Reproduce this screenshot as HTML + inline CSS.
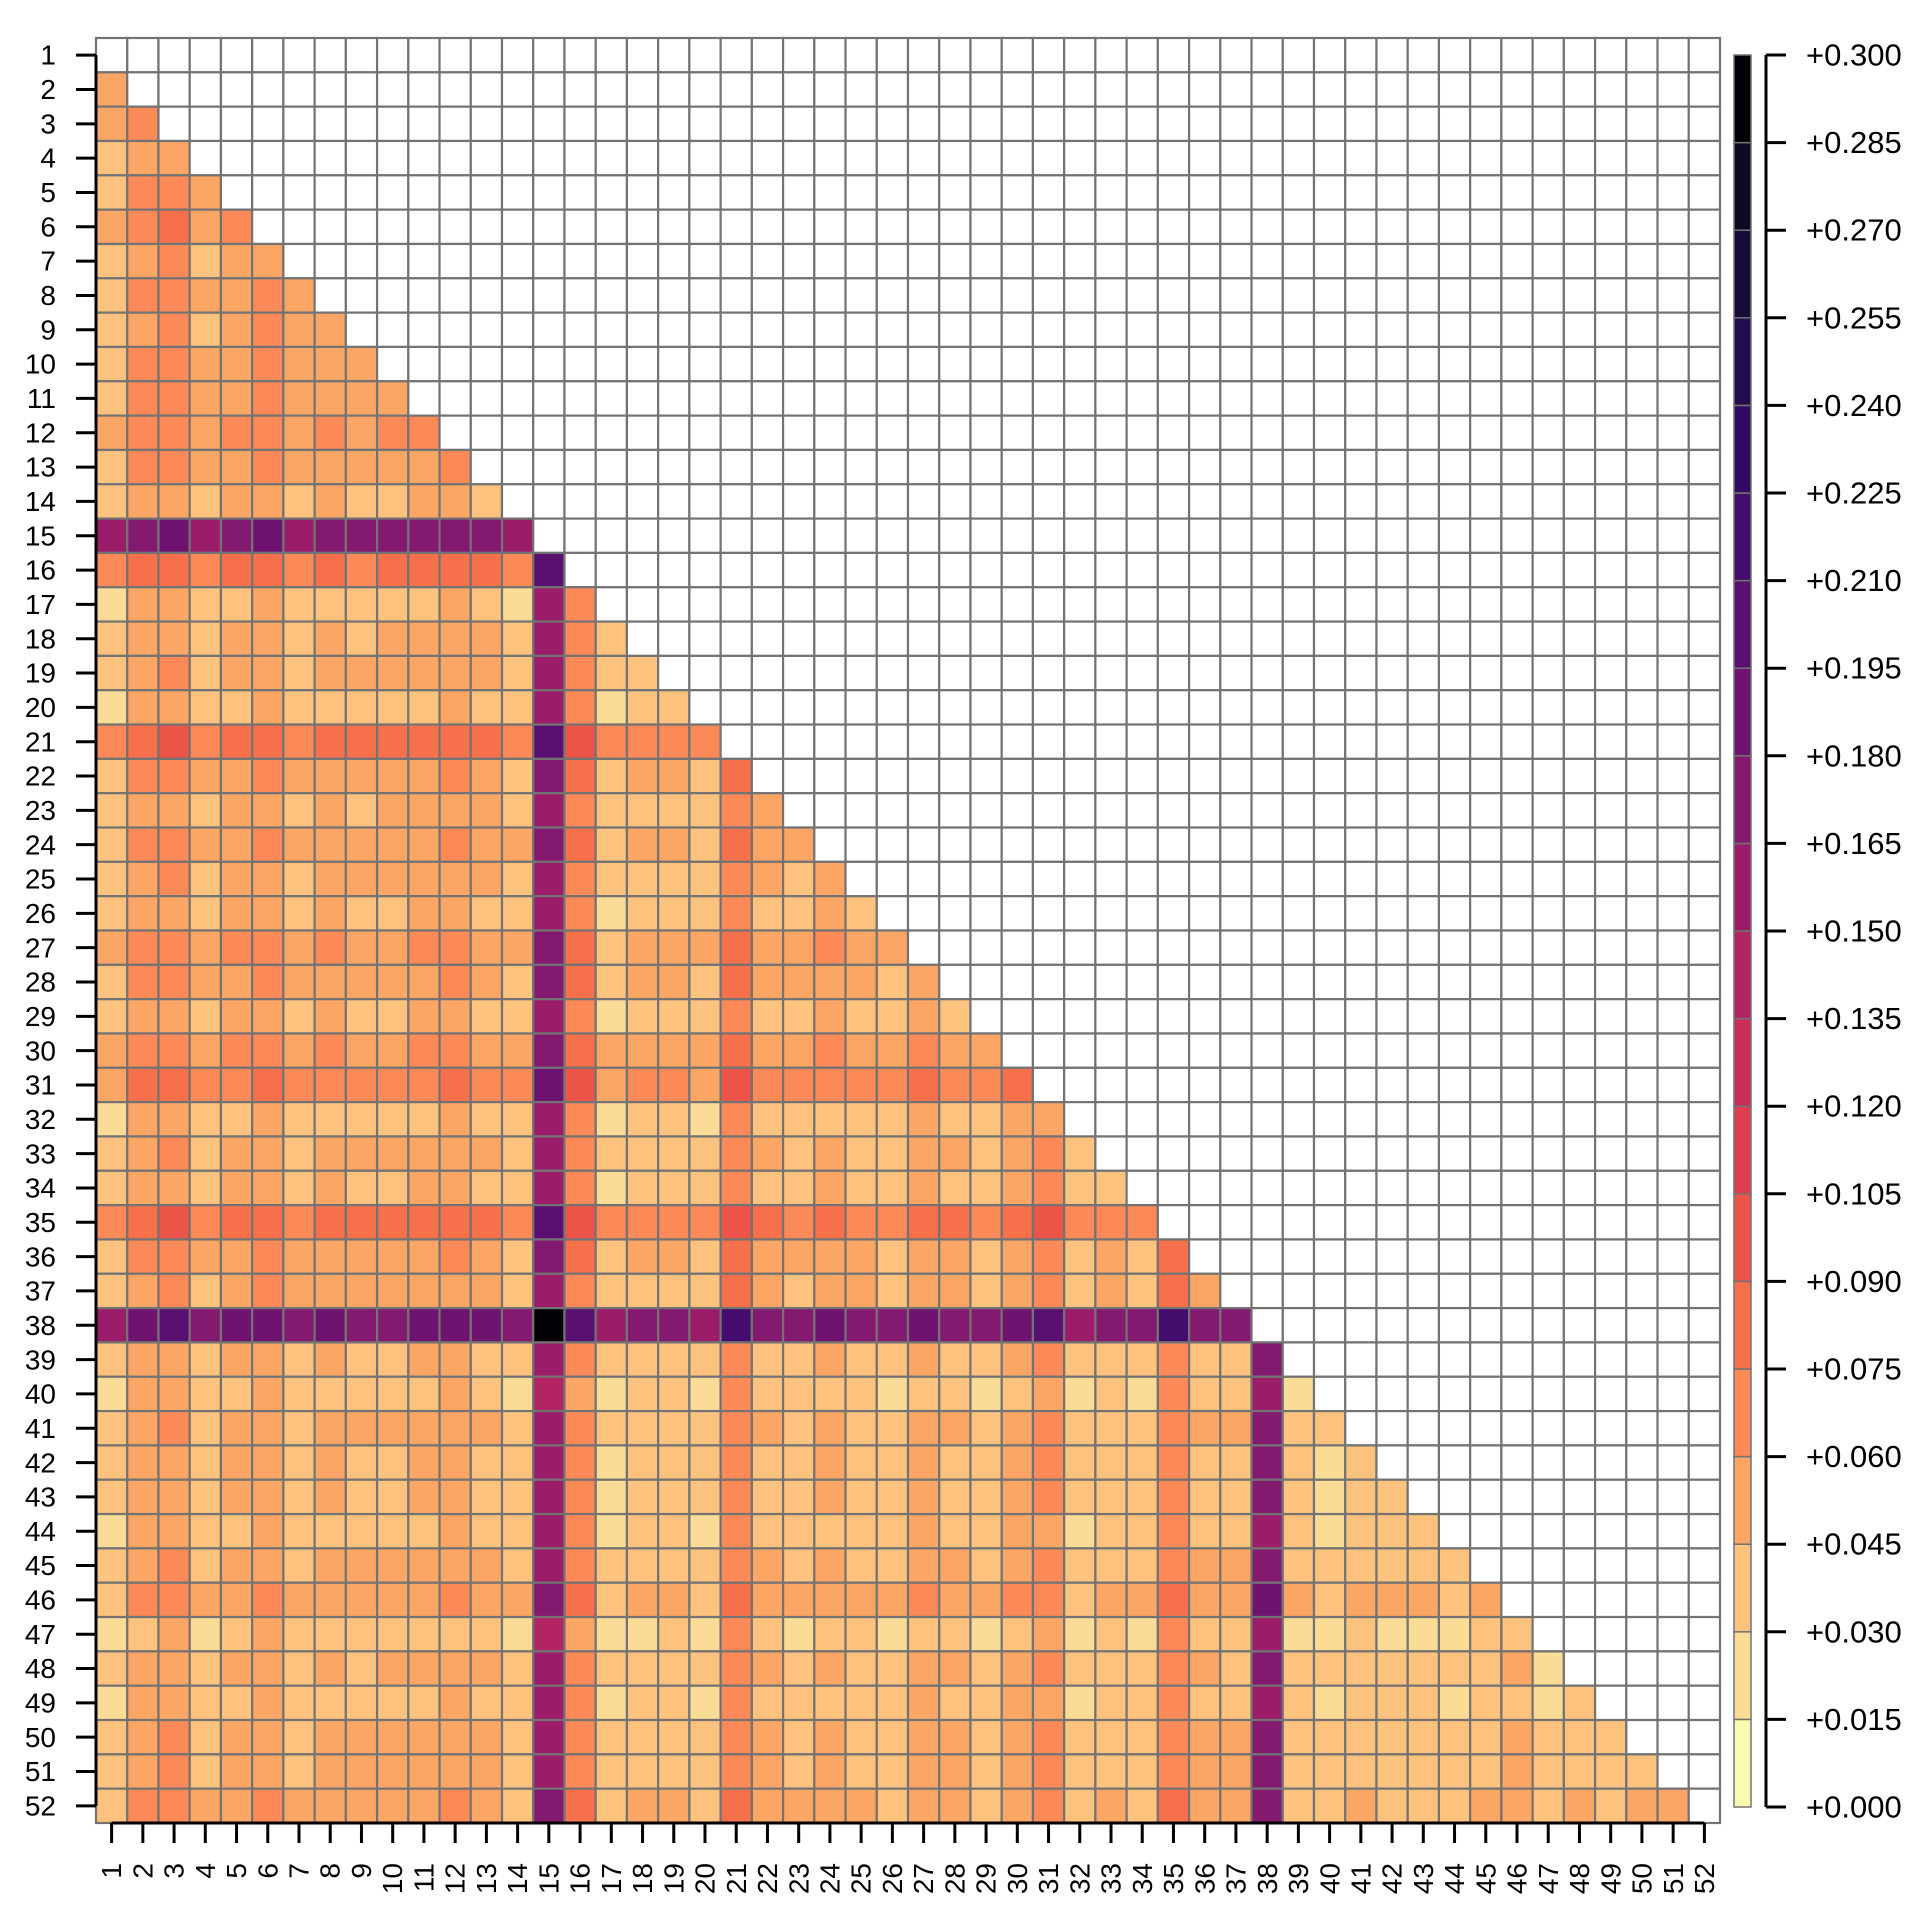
<!DOCTYPE html>
<html><head><meta charset="utf-8"><style>
html,body{margin:0;padding:0;background:#fff;width:1920px;height:1920px;overflow:hidden}
svg text{font-family:"Liberation Sans",Arial,sans-serif;fill:#000}
</style></head><body>
<svg id="s" width="1920" height="1920" xmlns="http://www.w3.org/2000/svg">
<g id="cells"></g>
<g id="axes" stroke="#000" stroke-width="3"></g>
<g font-size="28" text-anchor="end" dominant-baseline="central">
<text x="56" y="55.2">1</text><text x="56" y="89.5">2</text><text x="56" y="123.8">3</text><text x="56" y="158.2">4</text><text x="56" y="192.5">5</text><text x="56" y="226.8">6</text><text x="56" y="261.2">7</text><text x="56" y="295.5">8</text><text x="56" y="329.8">9</text><text x="56" y="364.2">10</text><text x="56" y="398.5">11</text><text x="56" y="432.8">12</text><text x="56" y="467.1">13</text><text x="56" y="501.5">14</text><text x="56" y="535.8">15</text><text x="56" y="570.1">16</text><text x="56" y="604.5">17</text><text x="56" y="638.8">18</text><text x="56" y="673.1">19</text><text x="56" y="707.5">20</text><text x="56" y="741.8">21</text><text x="56" y="776.1">22</text><text x="56" y="810.5">23</text><text x="56" y="844.8">24</text><text x="56" y="879.1">25</text><text x="56" y="913.5">26</text><text x="56" y="947.8">27</text><text x="56" y="982.1">28</text><text x="56" y="1016.4">29</text><text x="56" y="1050.8">30</text><text x="56" y="1085.1">31</text><text x="56" y="1119.4">32</text><text x="56" y="1153.8">33</text><text x="56" y="1188.1">34</text><text x="56" y="1222.4">35</text><text x="56" y="1256.8">36</text><text x="56" y="1291.1">37</text><text x="56" y="1325.4">38</text><text x="56" y="1359.8">39</text><text x="56" y="1394.1">40</text><text x="56" y="1428.4">41</text><text x="56" y="1462.8">42</text><text x="56" y="1497.1">43</text><text x="56" y="1531.4">44</text><text x="56" y="1565.7">45</text><text x="56" y="1600.1">46</text><text x="56" y="1634.4">47</text><text x="56" y="1668.7">48</text><text x="56" y="1703.1">49</text><text x="56" y="1737.4">50</text><text x="56" y="1771.7">51</text><text x="56" y="1806.1">52</text>
</g>
<g id="bl" font-size="28" text-anchor="end" dominant-baseline="central">
<text transform="translate(111.6,1863) rotate(-90)">1</text><text transform="translate(142.8,1863) rotate(-90)">2</text><text transform="translate(174.1,1863) rotate(-90)">3</text><text transform="translate(205.3,1863) rotate(-90)">4</text><text transform="translate(236.5,1863) rotate(-90)">5</text><text transform="translate(267.8,1863) rotate(-90)">6</text><text transform="translate(299.0,1863) rotate(-90)">7</text><text transform="translate(330.2,1863) rotate(-90)">8</text><text transform="translate(361.5,1863) rotate(-90)">9</text><text transform="translate(392.7,1863) rotate(-90)">10</text><text transform="translate(424.0,1863) rotate(-90)">11</text><text transform="translate(455.2,1863) rotate(-90)">12</text><text transform="translate(486.4,1863) rotate(-90)">13</text><text transform="translate(517.7,1863) rotate(-90)">14</text><text transform="translate(548.9,1863) rotate(-90)">15</text><text transform="translate(580.1,1863) rotate(-90)">16</text><text transform="translate(611.4,1863) rotate(-90)">17</text><text transform="translate(642.6,1863) rotate(-90)">18</text><text transform="translate(673.8,1863) rotate(-90)">19</text><text transform="translate(705.1,1863) rotate(-90)">20</text><text transform="translate(736.3,1863) rotate(-90)">21</text><text transform="translate(767.5,1863) rotate(-90)">22</text><text transform="translate(798.8,1863) rotate(-90)">23</text><text transform="translate(830.0,1863) rotate(-90)">24</text><text transform="translate(861.2,1863) rotate(-90)">25</text><text transform="translate(892.5,1863) rotate(-90)">26</text><text transform="translate(923.7,1863) rotate(-90)">27</text><text transform="translate(955.0,1863) rotate(-90)">28</text><text transform="translate(986.2,1863) rotate(-90)">29</text><text transform="translate(1017.4,1863) rotate(-90)">30</text><text transform="translate(1048.7,1863) rotate(-90)">31</text><text transform="translate(1079.9,1863) rotate(-90)">32</text><text transform="translate(1111.1,1863) rotate(-90)">33</text><text transform="translate(1142.4,1863) rotate(-90)">34</text><text transform="translate(1173.6,1863) rotate(-90)">35</text><text transform="translate(1204.8,1863) rotate(-90)">36</text><text transform="translate(1236.1,1863) rotate(-90)">37</text><text transform="translate(1267.3,1863) rotate(-90)">38</text><text transform="translate(1298.5,1863) rotate(-90)">39</text><text transform="translate(1329.8,1863) rotate(-90)">40</text><text transform="translate(1361.0,1863) rotate(-90)">41</text><text transform="translate(1392.2,1863) rotate(-90)">42</text><text transform="translate(1423.5,1863) rotate(-90)">43</text><text transform="translate(1454.7,1863) rotate(-90)">44</text><text transform="translate(1485.9,1863) rotate(-90)">45</text><text transform="translate(1517.2,1863) rotate(-90)">46</text><text transform="translate(1548.4,1863) rotate(-90)">47</text><text transform="translate(1579.7,1863) rotate(-90)">48</text><text transform="translate(1610.9,1863) rotate(-90)">49</text><text transform="translate(1642.1,1863) rotate(-90)">50</text><text transform="translate(1673.4,1863) rotate(-90)">51</text><text transform="translate(1704.6,1863) rotate(-90)">52</text>
</g>
<g font-size="31" dominant-baseline="central">
<text x="1806" y="55.0">+0.300</text><text x="1806" y="142.6">+0.285</text><text x="1806" y="230.2">+0.270</text><text x="1806" y="317.8">+0.255</text><text x="1806" y="405.4">+0.240</text><text x="1806" y="493.0">+0.225</text><text x="1806" y="580.6">+0.210</text><text x="1806" y="668.2">+0.195</text><text x="1806" y="755.8">+0.180</text><text x="1806" y="843.4">+0.165</text><text x="1806" y="931.0">+0.150</text><text x="1806" y="1018.6">+0.135</text><text x="1806" y="1106.2">+0.120</text><text x="1806" y="1193.8">+0.105</text><text x="1806" y="1281.4">+0.090</text><text x="1806" y="1369.0">+0.075</text><text x="1806" y="1456.6">+0.060</text><text x="1806" y="1544.2">+0.045</text><text x="1806" y="1631.8">+0.030</text><text x="1806" y="1719.4">+0.015</text><text x="1806" y="1807.0">+0.000</text>
</g>
</svg>
<script>
(function(){
var pal=["#f9fbb0","#fbdc97","#fcc27e","#fca666","#fb8a58","#f6704b","#ec5448","#dd3e50","#c92d5a","#b32462","#9b1d6a","#841a6f","#6e1470","#591070","#440c6c","#330a62","#220c4e","#170c38","#0e0a23","#020108"];
var a=[0,0.5,1.8,2.2,0.8,1.5,2,1,1.5,1.2,1.3,1.5,1.8,1.4,0.6,10,2.8,0.4,0.8,0.9,0.5,3,1.3,0.8,1.5,1,0.6,1.6,1.3,0.6,1.7,2.5,0.5,1,0.6,3,1.3,1.1,9.5,0.7,0.3,1,0.6,0.6,0.5,1,1.5,0.2,0.8,0.5,1,1,1.3];
var L=96,T=38,W=1624/52,H=1785/52;
var g=document.getElementById("cells"),h="";
for(var i=1;i<=52;i++)for(var j=1;j<=52;j++){
 var c="#ffffff";
 if(j<i){
  var v;
  var s1=(i==15||i==38),s2=(j==15||j==38);
  if(s1&&s2)v=19;
  else if(s1)v=Math.min(14,9+1.3*a[j]+(i==38?0.8:0));
  else if(s2)v=Math.min(14,9+1.3*a[i]+(j==38?0.8:0));
  else v=a[i]+a[j]+0.4;
  v=Math.max(0,Math.min(19,Math.round(v)));
  c=pal[v];
 }
 h+='<rect x="'+(L+(j-1)*W).toFixed(2)+'" y="'+(T+(i-1)*H).toFixed(2)+'" width="'+W.toFixed(2)+'" height="'+H.toFixed(2)+'" fill="'+c+'" stroke="#737373" stroke-width="2.2"/>';
}
for(var k=0;k<20;k++){
 h+='<rect x="1734" y="'+(55+(19-k)*87.6).toFixed(2)+'" width="17" height="87.6" fill="'+pal[k]+'" stroke="#737373" stroke-width="1.5"/>';
}
g.innerHTML=h;
var ax=document.getElementById("axes"),t="";
t+='<line x1="96" y1="'+(T+H/2)+'" x2="96" y2="'+(T+51.5*H)+'"/>';
for(var i=0;i<52;i++){var y=T+(i+0.5)*H;t+='<line x1="76" y1="'+y+'" x2="96" y2="'+y+'"/>';}
t+='<line x1="'+(L+W/2)+'" y1="1823" x2="'+(L+51.5*W)+'" y2="1823"/>';
for(var i=0;i<52;i++){var x=L+(i+0.5)*W;t+='<line x1="'+x+'" y1="1823" x2="'+x+'" y2="1843"/>';}
t+='<line x1="1766" y1="55" x2="1766" y2="1807"/>';
for(var k=0;k<=20;k++){var y=55+k*87.6;t+='<line x1="1766" y1="'+y+'" x2="1786" y2="'+y+'"/>';}
ax.innerHTML=t;
})();
</script>
</body></html>
